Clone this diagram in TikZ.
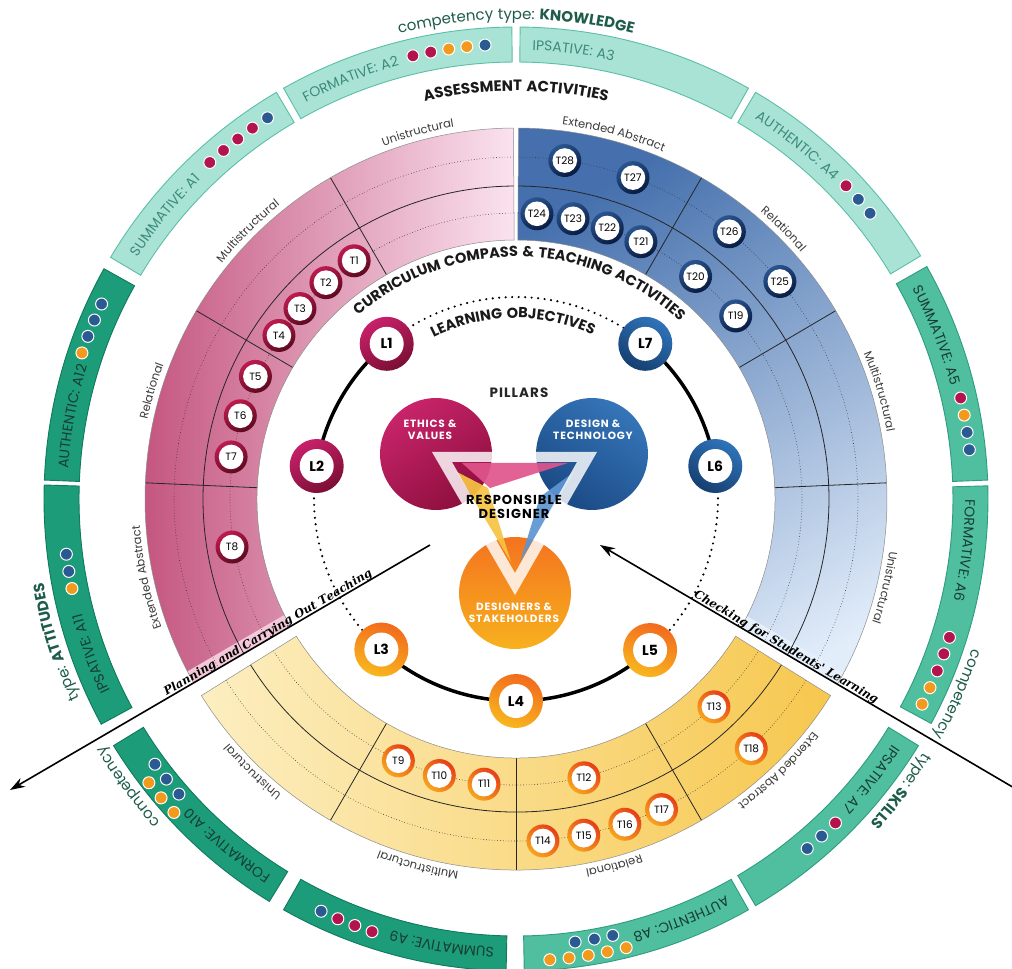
\documentclass[tikz,border=0pt]{standalone}
\usepackage{fontspec}
\setmainfont{Poppins}
\newfontfamily\popls[LetterSpace=8]{Poppins}
\newfontfamily\popsp[LetterSpace=4]{Poppins}
\newfontfamily\dser[LetterSpace=3]{DejaVu Serif}
\usetikzlibrary{decorations.text,arrows.meta,calc}

\definecolor{kfill}{HTML}{A9E3D6}
\definecolor{kdraw}{HTML}{5BBFA7}
\definecolor{ktext}{HTML}{3D8A7C}
\definecolor{sfill}{HTML}{4FBF9F}
\definecolor{sdraw}{HTML}{2F9C80}
\definecolor{afill}{HTML}{1C9C78}
\definecolor{adraw}{HTML}{0F7A5D}
\definecolor{dtext}{HTML}{173D33}
\definecolor{cred}{HTML}{B3144E}
\definecolor{cblue}{HTML}{2B5A93}
\definecolor{corange}{HTML}{F39A1E}
\definecolor{gtext}{HTML}{1D5C4B}
\definecolor{labc}{HTML}{3A3A3A}
\definecolor{pinkL}{HTML}{C4557F}
\definecolor{pinkM}{HTML}{D98AAA}
\definecolor{pinkR}{HTML}{FBE4EF}
\definecolor{pinkS}{HTML}{F3C9DA}
\definecolor{blueT}{HTML}{4570AD}
\definecolor{blueB}{HTML}{E2EDFA}
\definecolor{blueS}{HTML}{E6F0FA}
\definecolor{yelL}{HTML}{FDF2CC}
\definecolor{yelR}{HTML}{F6C444}
\definecolor{tp1}{HTML}{BE1A4F}
\definecolor{tp2}{HTML}{5A0A1E}
\definecolor{tb1}{HTML}{2A558F}
\definecolor{tb2}{HTML}{081A40}
\definecolor{ty1}{HTML}{E63E17}
\definecolor{ty2}{HTML}{F7A51E}
\definecolor{lp1}{HTML}{C8206A}
\definecolor{lp2}{HTML}{7A0F33}
\definecolor{lb1}{HTML}{2F73B9}
\definecolor{lb2}{HTML}{163F70}
\definecolor{lo1}{HTML}{F26A1E}
\definecolor{lo2}{HTML}{F8B71E}
\definecolor{pe1}{HTML}{C8246A}
\definecolor{pe2}{HTML}{8E0F3E}
\definecolor{pd1}{HTML}{3575B8}
\definecolor{pd2}{HTML}{1B4A85}
\definecolor{po1}{HTML}{F4731F}
\definecolor{po2}{HTML}{F7B11E}
\definecolor{shP}{HTML}{E0558C}
\definecolor{shY}{HTML}{F6C443}
\definecolor{shB}{HTML}{5E95D2}

\newcommand\arcl[5]{\path[decorate,decoration={text along path,text={|#1|#2}}] (#4:#3) arc[start angle=#4,end angle=#5,radius=#3];}
\newcommand\arcc[5]{\path[decorate,decoration={text along path,text align=center,text={|#1|#2}}] (#4:#3) arc[start angle=#4,end angle=#5,radius=#3];}

\tikzset{
 annsec/.style n args={4}{insert path={(#1:#3) -- (#1:#4) arc[start angle=#1,end angle=#2,radius=#4] -- (#2:#3) arc[start angle=#2,end angle=#1,radius=#3] -- cycle}},
 kbox/.style={fill=kfill,draw=kdraw,line width=0.9pt},
 sbox/.style={fill=sfill,draw=sdraw,line width=0.9pt},
 abox/.style={fill=afill,draw=adraw,line width=0.9pt},
 dot/.style={circle,minimum size=12pt,inner sep=0pt,draw=white,line width=1pt},
 dotl/.style={line width=0.6pt,dash pattern=on 0.6pt off 2.2pt,draw=black!80},
 divl/.style={line width=0.8pt,draw=black!85},
 outl/.style={line width=0.5pt,draw=black!45},
 tnode/.style={circle,minimum size=33pt,inner sep=0pt,font=\fontsize{10.5}{12}\selectfont,
   path picture={\fill[white] (path picture bounding box.center) circle (12.3pt);}},
 tpink/.style={tnode,top color=tp1,bottom color=tp2,shading angle=30},
 tblue/.style={tnode,top color=tb1,bottom color=tb2,shading angle=30},
 tyel/.style={tnode,top color=ty1,bottom color=ty2,shading angle=-40},
 lnode/.style={circle,minimum size=54pt,inner sep=0pt,font=\bfseries\fontsize{14}{16}\selectfont,
   path picture={\fill[white] (path picture bounding box.center) circle (17pt);}},
 lpink/.style={lnode,top color=lp1,bottom color=lp2,shading angle=30},
 lblue/.style={lnode,top color=lb1,bottom color=lb2,shading angle=-30},
 lorange/.style={lnode,top color=lo1,bottom color=lo2,shading angle=-20},
 pillar/.style={circle,minimum size=112pt,inner sep=0pt},
 ptext/.style={align=center,text=white,font=\popls\bfseries\fontsize{10.5}{12.5}\selectfont},
 arrowline/.style={line width=1.6pt,draw=black},
 Lsolid/.style={line width=3.5pt,draw=black},
 Ldots/.style={line width=2.4pt,dash pattern=on 0pt off 6.5pt,line cap=round,draw=black},
}

\begin{document}
\begin{tikzpicture}[x=1pt,y=1pt]
\useasboundingbox[fill=white] (-516,-470) rectangle (496,499);

% ---------------- assessment boxes
\path[kbox,annsec={149.2}{120.5}{437}{472}];
\path[kbox,annsec={119.5}{90.5}{437}{472}];
\path[kbox,annsec={89.5}{60.5}{437}{472}];
\path[kbox,annsec={59.5}{31}{437}{472}];
\path[sbox,annsec={29.5}{2.3}{437}{472}];
\path[sbox,annsec={1.6}{-28.4}{437}{472}];
\path[sbox,annsec={-31.5}{-59.5}{437}{472}];
\path[sbox,annsec={-60.5}{-89}{437}{472}];
\path[abox,annsec={-91.2}{-119.5}{437}{472}];
\path[abox,annsec={-121.5}{-148.5}{437}{472}];
\path[abox,annsec={208.5}{178.3}{437}{472}];
\path[abox,annsec={177.7}{150.8}{437}{472}];

\arcl{\fontsize{14}{16}\selectfont\popsp\color{ktext}}{SUMMATIVE: A1}{449}{147.4}{120.5}
\arcl{\fontsize{14}{16}\selectfont\popsp\color{ktext}}{FORMATIVE: A2}{449}{117.9}{90.5}
\arcl{\fontsize{14}{16}\selectfont\popsp\color{ktext}}{IPSATIVE: A3}{449}{87.9}{60.5}
\arcl{\fontsize{14}{16}\selectfont\popsp\color{ktext}}{AUTHENTIC: A4}{449}{57.9}{31}
\arcl{\fontsize{14}{16}\selectfont\popsp\color{dtext}}{SUMMATIVE: A5}{449}{27.9}{2.3}
\arcl{\fontsize{14}{16}\selectfont\popsp\color{dtext}}{FORMATIVE: A6}{449}{-0.1}{-28.4}
\arcl{\fontsize{14}{16}\selectfont\popsp\color{dtext}}{IPSATIVE: A7}{449}{-33.1}{-59.5}
\arcl{\fontsize{14}{16}\selectfont\popsp\color{dtext}}{AUTHENTIC: A8}{449}{-62.1}{-89}
\arcl{\fontsize{14}{16}\selectfont\popsp\color{dtext}}{SUMMATIVE: A9}{449}{-92.8}{-119.5}
\arcl{\fontsize{14}{16}\selectfont\popsp\color{dtext}}{FORMATIVE: A10}{449}{-123.1}{-148.5}
\arcl{\fontsize{14}{16}\selectfont\popsp\color{dtext}}{IPSATIVE: A11}{449}{205.3}{178.3}
\arcl{\fontsize{14}{16}\selectfont\popsp\color{dtext}}{AUTHENTIC: A12}{449}{176.1}{150.8}

% dots
\foreach \a/\c [count=\i] in {132.3/cred,130/cred,127.7/cred,125.4/cred,123.1/cblue}
  \node[dot,fill=\c] (da1-\i) at (\a:455) {};
\foreach \a/\c [count=\i] in {103.1/cred,100.8/cred,98.5/corange,96.2/corange,93.9/cblue}
  \node[dot,fill=\c] (da2-\i) at (\a:455) {};
\foreach \a/\c [count=\i] in {43.5/cred,41.2/cblue,38.9/cblue}
  \node[dot,fill=\c] (da4-\i) at (\a:455) {};
\foreach \a/\c [count=\i] in {12.8/cred,10.6/corange,8.4/cblue,6.2/cblue}
  \node[dot,fill=\c] (da5-\i) at (\a:456) {};
\foreach \a/\c [count=\i] in {-17.7/cred,-19.9/cred,-22.2/cred,-24.5/corange,-26.8/corange}
  \node[dot,fill=\c] (da6-\i) at (\a:455) {};
\foreach \a/\c [count=\i] in {-45.4/cred,-47.8/cblue,-50.2/cblue}
  \node[dot,fill=\c] (da7-\i) at (\a:455) {};
\foreach \a [count=\i] in {-77.5,-79.9,-82.4}
  \node[dot,fill=cblue] (da8b-\i) at (\a:447) {};
\foreach \a [count=\i] in {-76.2,-78.6,-81,-83.4,-85.8}
  \node[dot,fill=corange] (da8o-\i) at (\a:462) {};
\foreach \a/\c [count=\i] in {251.6/cred,249.3/cred,247/cred,244.7/cblue}
  \node[dot,fill=\c] (da9-\i) at (\a:456) {};
\foreach \a [count=\i] in {221.2,218.7,216.3}
  \node[dot,fill=cblue] (da10b-\i) at (\a:448) {};
\foreach \a [count=\i] in {222.5,220.1,217.7}
  \node[dot,fill=corange] (da10o-\i) at (\a:464) {};
\foreach \a/\c [count=\i] in {191.4/corange,189.2/cblue,187/cblue}
  \node[dot,fill=\c] (da11-\i) at (\a:453) {};
\foreach \a/\c [count=\i] in {161.4/corange,159.2/cblue,157/cblue,154.8/cblue}
  \node[dot,fill=\c] (da12-\i) at (\a:458) {};

% competency type labels
\arcc{\fontsize{15}{17}\selectfont\popsp\color{gtext}}{competency type: |\fontsize{15}{17}\selectfont\popsp\bfseries\color{gtext}|KNOWLEDGE}{480}{130}{50}
\arcl{\fontsize{15}{17}\selectfont\popsp\color{gtext}}{competency}{480}{-18.2}{-30}
\arcl{\fontsize{15}{17}\selectfont\popsp\color{gtext}}{type: |\fontsize{15}{17}\selectfont\popsp\bfseries\color{gtext}|SKILLS}{480}{-31.9}{-50}
\arcl{\fontsize{15}{17}\selectfont\popsp\color{gtext}}{competency}{480}{222.3}{208}
\arcl{\fontsize{15}{17}\selectfont\popsp\color{gtext}}{type: |\fontsize{15}{17}\selectfont\popsp\bfseries\color{gtext}|ATTITUDES}{480}{204.6}{180}

\arcc{\fontsize{15}{17}\selectfont\popls\bfseries\color{black!90}}{ASSESSMENT ACTIVITIES}{408}{130}{50}

% ---------------- line end coordinates
\coordinate (pa) at (-86,-46);
\coordinate (pb) at (-506,-291);
\coordinate (ca) at (84,-46);
\coordinate (cb) at (500,-290);

% ---------------- pink sector
\begin{scope}
  \clip (777.8,457.9) -- (-604.3,-348.3) -- (-1200,-348) -- (-1200,1200) -- (777.8,1200) -- cycle;
  \begin{scope}
    \clip[annsec={90.4}{215}{259}{371}];
    \shade[left color=pinkL,middle color=pinkM,right color=pinkR] (-375,-250) rectangle (1,375);
    \fill[pinkS] (pa) -- (pb) -- ($(pb)+(-6.6,11.2)$) -- ($(pa)+(-6.6,11.2)$) -- cycle;
  \end{scope}
  \draw[dotl] (90.4:286) arc[start angle=90.4,end angle=215,radius=286];
  \draw[dotl] (90.4:342) arc[start angle=90.4,end angle=215,radius=342];
  \draw[divl] (90.4:313) arc[start angle=90.4,end angle=215,radius=313];
  \foreach \a in {120,149.5,177.5} \draw[divl] (\a:259) -- (\a:371);
  \path[outl,annsec={90.4}{215}{259}{371}];
\end{scope}

% ---------------- blue sector
\begin{scope}
  \clip (-779,459) -- (601.8,-349) -- (1200,-349) -- (1200,1200) -- (-779,1200) -- cycle;
  \begin{scope}
    \clip[annsec={89.6}{-35}{259}{371}];
    \shade[top color=blueT,bottom color=blueB,shading angle=30] (-1,-230) rectangle (375,375);
    \fill[blueS] (ca) -- (cb) -- ($(cb)+(6.6,11.2)$) -- ($(ca)+(6.6,11.2)$) -- cycle;
  \end{scope}
  \draw[dotl] (89.6:286) arc[start angle=89.6,end angle=-35,radius=286];
  \draw[dotl] (89.6:342) arc[start angle=89.6,end angle=-35,radius=342];
  \draw[divl] (89.6:313) arc[start angle=89.6,end angle=-35,radius=313];
  \foreach \a in {60,30.5,2.5} \draw[divl] (\a:259) -- (\a:371);
  \path[outl,annsec={89.6}{-35}{259}{371}];
\end{scope}

% ---------------- yellow sector
\begin{scope}
  \clip[annsec={212}{328}{259}{371}];
  \shade[left color=yelL,right color=yelR] (-375,-375) rectangle (375,-100);
\end{scope}
\draw[dotl] (212:286) arc[start angle=212,end angle=328,radius=286];
\draw[dotl] (212:342) arc[start angle=212,end angle=328,radius=342];
\draw[divl] (212:313) arc[start angle=212,end angle=328,radius=313];
\foreach \a in {240,270,300} \draw[divl] (\a:259) -- (\a:371);
\path[outl,annsec={212}{328}{259}{371}];

% ---------------- sector labels
\arcc{\fontsize{11.5}{13}\selectfont\color{labc}}{Unistructural}{377}{130}{80}
\arcc{\fontsize{11.5}{13}\selectfont\color{labc}}{Multistructural}{377}{160}{110}
\arcc{\fontsize{11.5}{13}\selectfont\color{labc}}{Relational}{377}{188.5}{138.5}
\arcc{\fontsize{11.5}{13}\selectfont\color{labc}}{Extended Abstract}{377}{217}{167}
\arcc{\fontsize{11.5}{13}\selectfont\color{labc}}{Extended Abstract}{377}{100}{50}
\arcc{\fontsize{11.5}{13}\selectfont\color{labc}}{Relational}{377}{70.25}{20.25}
\arcc{\fontsize{11.5}{13}\selectfont\color{labc}}{Multistructural}{377}{41.5}{-8.5}
\arcc{\fontsize{11.5}{13}\selectfont\color{labc}}{Unistructural}{377}{11.5}{-38.5}
\arcc{\fontsize{11.5}{13}\selectfont\color{labc}}{Unistructural}{377}{251}{201}
\arcc{\fontsize{11.5}{13}\selectfont\color{labc}}{Multistructural}{377}{280}{230}
\arcc{\fontsize{11.5}{13}\selectfont\color{labc}}{Relational}{377}{310}{260}
\arcc{\fontsize{11.5}{13}\selectfont\color{labc}}{Extended Abstract}{377}{339}{289}

% ---------------- teaching activities
\foreach \n/\a in {1/124.2,2/131.3,3/138.6,4/145.4,5/154.8,6/163.2,7/171.6,8/189.6}
  \node[tpink] (t\n) at (\a:288) {T\n};
\foreach \n/\a in {24/85.8,23/78.5,22/71.4,21/64.1,20/51.1,19/39.8}
  \node[tblue] (t\n) at (\a:286) {T\n};
\foreach \n/\a in {28/81.8,27/70,26/51.4,25/39.5}
  \node[tblue] (t\n) at (\a:342) {T\n};
\foreach \n/\a in {9/245.8,10/254.5,11/263.6,12/283.7,13/313.6}
  \node[tyel] (t\n) at (\a:287) {T\n};
\foreach \n/\a in {14/274.5,15/281.4,16/288.5,17/295.1,18/313.3}
  \node[tyel] (t\n) at (\a:343) {T\n};

% ---------------- arrows
\draw[arrowline,-{Stealth[length=15pt,width=10pt]}] (pa) -- (pb);
\draw[arrowline,-{Stealth[length=15pt,width=10pt]}] (cb) -- (ca);
\path[decorate,decoration={text along path,raise=2.5pt,text={|\dser\bfseries\itshape\fontsize{11.5}{13}\selectfont|Planning and Carrying Out Teaching}}] (-348,-198.8) -- (pa);
\path[decorate,decoration={text along path,raise=2.5pt,text={|\dser\bfseries\itshape\fontsize{11.5}{13}\selectfont|Checking for Students' Learning}}] (176,-99.9) -- (cb);

% ---------------- learning objectives ring
\draw[Lsolid] (129.8:202) arc[start angle=129.8,end angle=170.6,radius=202];
\draw[Lsolid] (50.2:202) arc[start angle=50.2,end angle=9.4,radius=202];
\draw[Lsolid] (228.2:202) arc[start angle=228.2,end angle=311.6,radius=202];
\draw[Ldots] (129.8:202) arc[start angle=129.8,end angle=50.2,radius=202];
\draw[Ldots] (170.6:202) arc[start angle=170.6,end angle=228.2,radius=202];
\draw[Ldots] (9.4:202) arc[start angle=9.4,end angle=-48.4,radius=202];

\node[lpink] (l1) at (129.8:202) {L1};
\node[lpink] (l2) at (170.6:202) {L2};
\node[lorange] (l3) at (228.2:202) {L3};
\node[lorange] (l4) at (270:202) {L4};
\node[lorange] (l5) at (311.6:202) {L5};
\node[lblue] (l6) at (9.4:202) {L6};
\node[lblue] (l7) at (50.2:202) {L7};

\arcc{\fontsize{14.5}{16}\selectfont\popls\bfseries\color{black!90}}{CURRICULUM COMPASS {\&} TEACHING ACTIVITIES}{242}{165}{13}
\arcc{\fontsize{14.5}{16}\selectfont\popls\bfseries\color{black!90}}{LEARNING OBJECTIVES}{181}{145}{37}

% ---------------- pillars
\node[font=\popls\bfseries\fontsize{13.5}{15}\selectfont,text=black!85] (pill) at (3,106) {PILLARS};
\node[pillar,top color=pe1,bottom color=pe2,shading angle=35] (ethics) at (-80,45) {};
\node[pillar,top color=pd1,bottom color=pd2,shading angle=-35] (design) at (76,45) {};
\node[pillar,top color=po1,bottom color=po2] (stake) at (-1,-94) {};

\fill[shP,opacity=0.92] (-54,36) -- (52,36) -- (-26,11) -- cycle;
\fill[shY,opacity=0.92] (-59,27) -- (-28,11) -- (-5,-63) -- cycle;
\fill[shB,opacity=0.92] (58,27) -- (24,2) -- (4,-63) -- cycle;
\fill[white,opacity=0.82,even odd rule] (-84,47) -- (81,47) -- (-1,-96) -- cycle (-64,37) -- (61,37) -- (-1,-74) -- cycle;

\node[ptext] (ethicst) at (-86,69) {ETHICS \&\\VALUES};
\node[ptext] (designt) at (77,69) {DESIGN \&\\TECHNOLOGY};
\node[ptext] (staket) at (-2,-114) {DESIGNERS \&\\STAKEHOLDERS};
\node[align=center,font=\popls\bfseries\fontsize{13}{14.5}\selectfont,text=black] (resp) at (-2,-8) {RESPONSIBLE\\DESIGNER};
\end{tikzpicture}
\end{document}
